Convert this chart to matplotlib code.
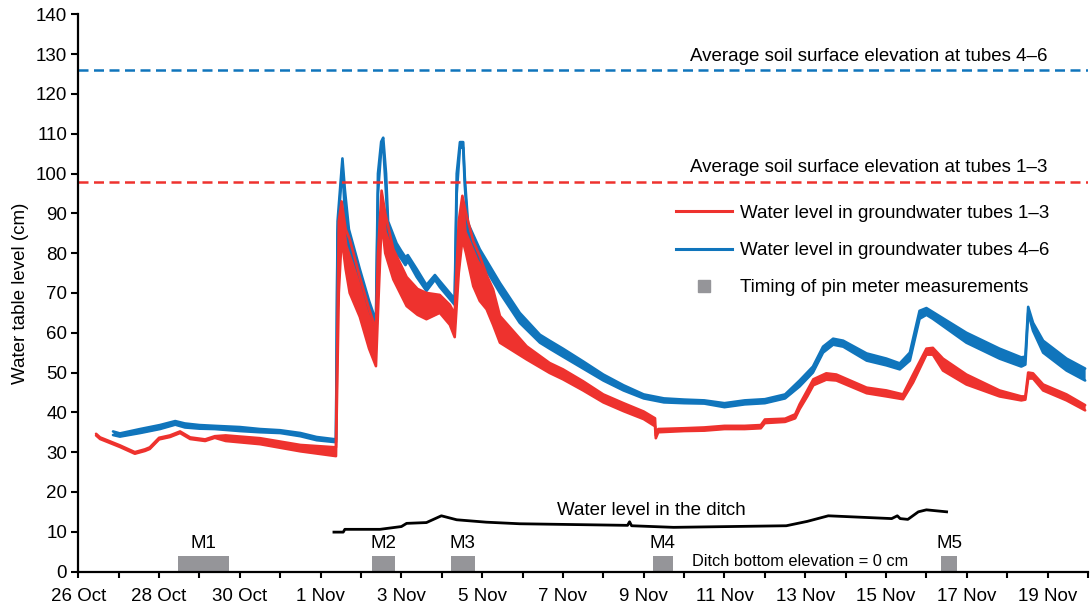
import matplotlib

matplotlib.use("Agg")
import matplotlib.pyplot as plt
import matplotlib.dates as mdates
from matplotlib.lines import Line2D
import numpy as np
import pandas as pd

plt.rcParams["font.family"] = ["Liberation Sans", "DejaVu Sans"]

# %% Data (days since 26 Oct 00:00; band = lowest / highest tube of each group)
START = pd.Timestamp("2019-10-26")

red_day = [0.44, 0.54, 1.03, 1.4, 1.65, 1.77, 2.0, 2.27, 2.52, 2.77, 3.14, 3.38, 3.65,
           4.5, 5.5, 6.38, 6.45, 6.52, 6.62, 6.72, 6.97, 7.2, 7.37, 7.42, 7.51, 7.6,
           7.8, 8.13, 8.4, 8.62, 8.95, 9.2, 9.32, 9.42, 9.51, 9.6, 9.78, 9.94, 10.11,
           10.27, 10.44, 11.1, 11.67, 12.0, 12.5, 13.0, 13.5, 14.0, 14.28, 14.3, 14.36,
           15.0, 15.5, 16.0, 16.5, 16.9, 17.0, 17.5, 17.75, 17.86, 18.05, 18.2, 18.52,
           18.77, 19.52, 20.01, 20.42, 20.67, 21.0, 21.16, 21.41, 21.99, 22.81, 23.35,
           23.45, 23.52, 23.64, 23.89, 24.47, 24.93]
red_lo = [34.2, 33.3, 31.3, 29.6, 30.3, 30.8, 33.2, 33.8, 34.8, 33.3, 32.8, 33.6, 32.8,
          32.0, 30.2, 29.0, 70.0, 84.0, 76.0, 70.0, 64.0, 56.0, 51.6, 65.0, 88.0, 80.0,
          73.4, 66.7, 64.5, 63.4, 65.0, 62.0, 58.9, 75.0, 83.5, 80.0, 71.7, 68.0, 65.9,
          62.0, 57.5, 53.3, 49.9, 48.3, 45.5, 42.5, 40.3, 38.3, 36.5, 33.5, 35.0,
          35.3, 35.4, 35.8, 35.8, 36.0, 37.3, 37.6, 38.5, 40.8, 44.0, 46.8, 48.2,
          48.0, 44.8, 44.0, 43.3, 47.5, 54.5, 54.5, 50.5, 47.0, 44.0, 43.0,
          43.2, 48.5, 48.5, 45.5, 43.0, 40.5]
red_hi = [34.6, 33.7, 31.7, 30.0, 30.7, 31.2, 33.6, 34.2, 35.2, 33.7, 33.2, 34.0, 34.2,
          33.5, 31.8, 31.2, 88.0, 93.0, 86.0, 83.5, 74.0, 66.0, 60.8, 80.0, 95.7, 90.0,
          81.0, 74.0, 71.0, 70.0, 69.5, 67.0, 64.7, 88.0, 94.4, 90.0, 83.0, 79.3, 74.5,
          70.9, 64.2, 56.6, 52.4, 50.8, 47.8, 44.5, 42.3, 40.2, 38.5, 34.2, 35.8,
          36.0, 36.2, 36.6, 36.6, 36.8, 38.2, 38.4, 39.5, 42.0, 45.5, 48.3, 49.8,
          49.5, 46.2, 45.5, 44.5, 49.5, 56.0, 56.2, 53.5, 49.5, 45.5, 44.0,
          44.0, 50.0, 49.8, 47.0, 44.5, 41.8]

blue_day = [0.86, 1.03, 1.53, 2.02, 2.4, 2.64, 3.0, 3.38, 4.0, 4.5, 5.0, 5.5, 5.9, 6.38,
            6.42, 6.54, 6.6, 6.7, 6.97, 7.2, 7.37, 7.42, 7.5, 7.55, 7.62, 7.67, 7.88,
            8.0, 8.1, 8.16, 8.38, 8.62, 8.83, 8.95, 9.32, 9.37, 9.45, 9.53, 9.57, 9.65,
            9.94, 10.44, 10.93, 11.43, 11.67, 12.0, 12.5, 13.0, 13.5, 14.0, 14.5, 15.0,
            15.5, 16.0, 16.5, 17.0, 17.5, 17.86, 18.19, 18.44, 18.69, 18.94, 19.52,
            20.01, 20.34, 20.59, 20.83, 21.0, 21.16, 21.99, 22.81, 23.35, 23.45, 23.52,
            23.64, 23.89, 24.47, 24.93]
blue_lo = [34.3, 33.9, 34.8, 35.8, 36.9, 36.2, 35.9, 35.8, 35.3, 35.0, 34.8, 34.0, 33.0, 32.5,
           85.0, 102.0, 90.0, 82.0, 74.0, 66.0, 61.3, 95.0, 106.0, 107.0, 95.0, 85.5, 80.0,
           78.5, 77.0, 78.0, 74.0, 70.5, 73.3, 71.5, 67.0, 95.0, 106.5, 106.5, 97.0, 85.5,
           78.5, 70.0, 62.5, 57.5, 56.0, 54.0, 51.0, 48.0, 45.5, 43.5, 42.5, 42.3,
           42.2, 41.3, 42.0, 42.3, 43.5, 46.5, 50.0, 55.0, 57.0, 56.5, 53.0,
           51.8, 50.8, 53.0, 63.5, 64.5, 63.5, 57.5, 53.5, 51.5, 52.0, 65.0,
           60.5, 55.0, 50.5, 48.0]
blue_hi = [35.2, 34.7, 35.8, 36.8, 37.8, 37.2, 36.8, 36.6, 36.3, 35.8, 35.5, 34.8, 33.8, 33.2,
           88.0, 103.8, 96.0, 86.0, 76.0, 68.0, 63.0, 100.0, 108.0, 109.0, 100.0, 88.0, 82.5,
           80.5, 79.0, 79.5, 76.0, 72.0, 74.5, 73.0, 68.5, 100.0, 107.9, 107.9, 99.0, 87.5,
           81.0, 72.5, 65.0, 59.5, 58.0, 56.0, 52.8, 49.5, 46.8, 44.5, 43.5, 43.2,
           43.0, 42.3, 43.0, 43.3, 44.5, 48.0, 51.5, 56.5, 58.5, 58.0, 54.8,
           53.5, 52.3, 55.0, 65.5, 66.2, 65.2, 60.0, 56.0, 53.8, 54.0, 66.5,
           62.5, 58.0, 53.5, 51.0]

ditch_day = [6.33, 6.56, 6.6, 7.47, 8.0, 8.13, 8.62, 8.99, 9.37, 10.1, 10.93, 11.6, 13.6,
             13.65, 13.7, 14.74, 17.53, 18.05, 18.57, 20.14, 20.28, 20.35, 20.54, 20.8,
             21.0, 21.5]
ditch_level = [9.9, 9.9, 10.6, 10.6, 11.3, 12.1, 12.3, 14.0, 13.0, 12.4, 12.0, 11.9, 11.6,
               12.5, 11.5, 11.1, 11.5, 12.6, 14.0, 13.3, 14.0, 13.3, 13.1, 15.0,
               15.5, 15.0]

surface_13 = 98
surface_46 = 126

pin_names = ["M1", "M2", "M3", "M4", "M5"]
pin_start = [2.47, 7.27, 9.22, 14.22, 21.37]
pin_end = [3.73, 7.84, 9.82, 14.72, 21.75]
pin_height = 4

RED = "#ee322e"
BLUE = "#1075bc"
GREY = "#959599"


def to_time(days):
    return START + pd.to_timedelta(np.atleast_1d(days), unit="D")


# %% Figure
fig = plt.figure(figsize=(10.92, 6.08), dpi=100)
ax = fig.add_axes([0.0717, 0.060, 0.9246, 0.9164])

for day, lo, hi, col in [(blue_day, blue_lo, blue_hi, BLUE), (red_day, red_lo, red_hi, RED)]:
    t = to_time(day)
    ax.fill_between(t, lo, hi, color=col, lw=0)
    ax.plot(t, lo, color=col, lw=1.9, solid_capstyle="round")
    ax.plot(t, hi, color=col, lw=1.9, solid_capstyle="round")

ax.plot(to_time(ditch_day), ditch_level, color="black", lw=2.0)

ax.axhline(surface_46, color=BLUE, lw=1.8, ls=(0, (4, 2.2)))
ax.axhline(surface_13, color=RED, lw=1.8, ls=(0, (4, 2.2)))

for name, s, e in zip(pin_names, pin_start, pin_end):
    t0, t1 = to_time([s, e])
    ax.bar(t0, pin_height, width=t1 - t0, align="edge", color=GREY, lw=0)
    ax.text(t0 + (t1 - t0) / 2, pin_height + 1.0, name, ha="center", va="bottom", fontsize=13.5)

ax.text(to_time(24.0)[0], surface_46 + 1.3, "Average soil surface elevation at tubes 4\u20136",
        ha="right", va="bottom", fontsize=13.5)
ax.text(to_time(24.0)[0], surface_13 + 1.3, "Average soil surface elevation at tubes 1\u20133",
        ha="right", va="bottom", fontsize=13.5)
ax.text(to_time(14.2)[0], 13.2, "Water level in the ditch", ha="center", va="bottom", fontsize=13.5)
ax.text(to_time(15.2)[0], 0.7, "Ditch bottom elevation = 0 cm", ha="left", va="bottom",
        fontsize=11.8)

handles = [
    Line2D([], [], color=RED, lw=2.2),
    Line2D([], [], color=BLUE, lw=2.2),
    Line2D([], [], color=GREY, marker="s", ls="none", markersize=9),
]
labels = ["Water level in groundwater tubes 1\u20133",
          "Water level in groundwater tubes 4\u20136",
          "Timing of pin meter measurements"]
ax.legend(handles, labels, loc="upper left", bbox_to_anchor=(0.5916, 0.658), frameon=False,
          fontsize=13.5, handlelength=3.0, handletextpad=0.45, labelspacing=1.07,
          borderpad=0, borderaxespad=0)

ax.set_xlim(to_time(0)[0], to_time(25)[0])
ax.set_ylim(0, 140)
ax.set_yticks(np.arange(0, 141, 10))
ax.xaxis.set_major_locator(mdates.DayLocator(bymonthday=[26, 28, 30, 1, 3, 5, 7, 9, 11, 13, 15, 17, 19]))
ax.xaxis.set_minor_locator(mdates.DayLocator())
ax.xaxis.set_major_formatter(plt.FuncFormatter(
    lambda v, pos: f"{mdates.num2date(v).day} {mdates.num2date(v).strftime('%b')}"))
ax.set_ylabel("Water table level (cm)", fontsize=13.5, labelpad=5)

for side in ["top", "right"]:
    ax.spines[side].set_visible(False)
for side in ["left", "bottom"]:
    ax.spines[side].set_linewidth(1.6)
ax.tick_params(which="both", direction="out", width=1.5, labelsize=13.5)
ax.tick_params(axis="x", which="both", length=4, pad=8)
ax.tick_params(axis="y", length=5, pad=3)

fig.savefig("out.png", dpi=100)
